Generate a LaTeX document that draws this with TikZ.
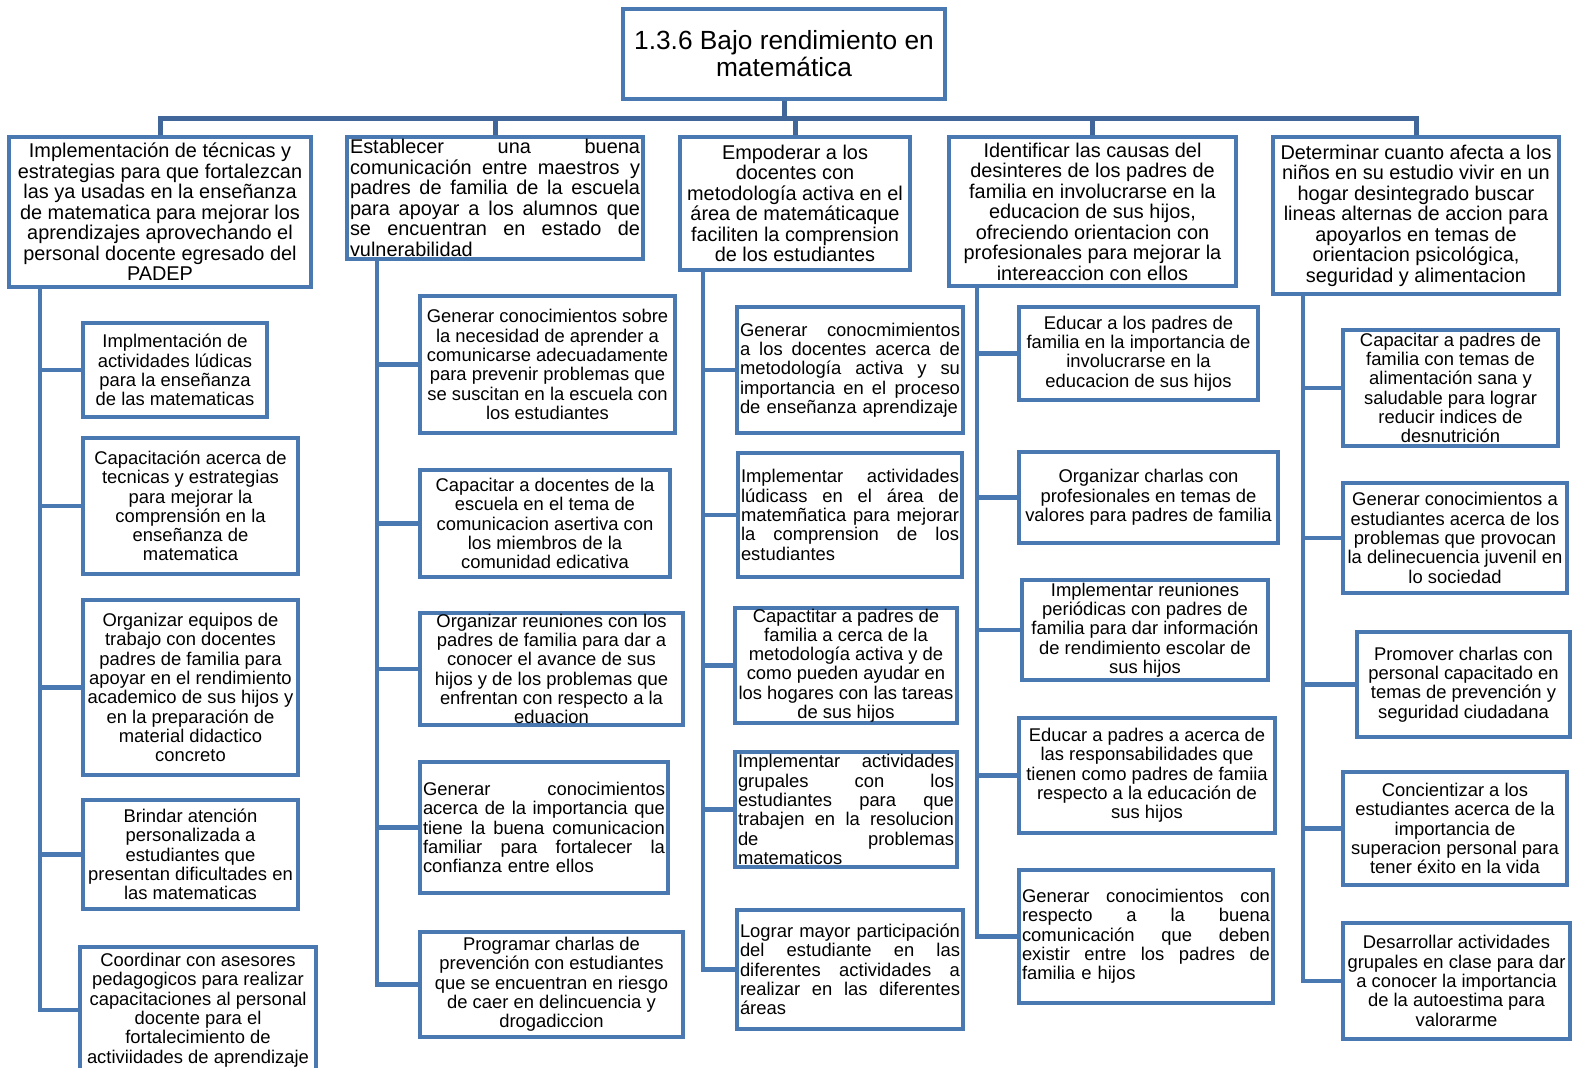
\documentclass[tikz,border=0pt]{standalone}
\usepackage{fontspec}
\setmainfont{Liberation Sans}
\definecolor{azul}{RGB}{74,120,176}
\definecolor{azulbarra}{RGB}{64,102,154}
\newcommand\jline[1]{\noindent\hbox to\hsize{\spaceskip=0pt\xspaceskip=0pt\relax #1}}

\begin{document}
\begin{tikzpicture}[x=1pt,y=-1pt,
  meta/.style={draw=azul,line width=4.8pt,fill=white,align=center,inner sep=2pt,font=\fontsize{26.3}{27}\selectfont},
  causa/.style={draw=azul,line width=4.6pt,fill=white,align=center,inner xsep=3pt,inner ysep=0pt,font=\fontsize{19.9}{20.5}\selectfont},
  accion/.style={draw=azul,line width=4.6pt,fill=white,align=center,inner xsep=3pt,inner ysep=0pt,font=\fontsize{18.4}{19.3}\selectfont},
  justo/.style={align=left},
  rama/.style={draw=azul,line width=4.8pt},
  barra/.style={draw=azulbarra,line width=5pt}]
\useasboundingbox (0,0) rectangle (1572,1068);
\clip (0,0) rectangle (1572,1068);

\node[meta,minimum width=322pt,minimum height=90pt] (titulo) at (784,54) {1.3.6 Bajo rendimiento en\\matemática};

% objetivos generales
\node[causa,minimum width=302pt,minimum height=150pt] (h1) at (160,212) {Implementación  de técnicas y\\estrategias para que fortalezcan\\las ya usadas en la enseñanza\\de matematica para  mejorar los\\aprendizajes aprovechando el\\personal docente egresado del\\PADEP};
\node[causa,justo,text width=290pt,minimum height=122pt] (h2) at (495,198) {\jline{Establecer una buena}\\\jline{comunicación entre maestros y}\\\jline{padres de familia de la escuela}\\\jline{para apoyar a los alumnos que}\\\jline{se encuentran en estado de}\\vulnerabilidad};
\node[causa,minimum width=230pt,minimum height=133pt] (h3) at (795,203.5) {Empoderar a los\\docentes con\\metodología activa en el\\área de matemáticaque\\faciliten la comprension\\de los estudiantes};
\node[causa,minimum width=287pt,minimum height=149pt] (h4) at (1092.5,211.5) {Identificar las causas del\\desinteres de los padres de\\familia en involucrarse en la\\educacion de sus hijos,\\ofreciendo orientacion con\\profesionales para mejorar la\\intereaccion con ellos};
\node[causa,minimum width=286pt,minimum height=157pt] (h5) at (1416,215.5) {Determinar cuanto afecta a los\\niños en su estudio vivir en un\\hogar desintegrado  buscar\\lineas alternas de accion para\\apoyarlos en temas de\\orientacion psicológica,\\seguridad y alimentacion};

% columna 1
\node[accion,minimum width=184pt,minimum height=94pt] (c1a) at (175,370) {Implmentación de\\actividades lúdicas\\para la enseñanza\\de las matematicas};
\node[accion,minimum width=215pt,minimum height=136pt] (c1b) at (190.5,506) {Capacitación acerca de\\tecnicas y estrategias\\para mejorar  la\\comprensión en la\\enseñanza de\\matematica};
\node[accion,minimum width=215pt,minimum height=175pt] (c1c) at (190.5,687.5) {Organizar equipos de\\trabajo con docentes\\padres de familia para\\apoyar en el rendimiento\\academico de sus hijos y\\en la preparación de\\material didactico\\concreto};
\node[accion,minimum width=215pt,minimum height=109pt] (c1d) at (190.5,854.5) {Brindar atención\\personalizada a\\estudiantes que\\presentan dificultades en\\las matematicas};
\node[accion,minimum width=236pt,minimum height=126pt] (c1e) at (198,1010) {Coordinar con asesores\\pedagogicos para realizar\\capacitaciones al personal\\docente para el\\fortalecimiento de\\activiidades de aprendizaje};

% columna 2
\node[accion,minimum width=255pt,minimum height=137pt] (c2a) at (547.5,364.5) {Generar conocimientos sobre\\la necesidad de aprender a\\comunicarse adecuadamente\\para prevenir problemas que\\se suscitan en la escuela con\\los estudiantes};
\node[accion,minimum width=250pt,minimum height=107pt] (c2b) at (545,523.5) {Capacitar a docentes de la\\escuela en el tema de\\comunicacion asertiva con\\los miembros de la\\comunidad edicativa};
\node[accion,minimum width=263pt,minimum height=112pt] (c2c) at (551.5,669) {Organizar reuniones con los\\padres de familia  para dar a\\conocer el avance de  sus\\hijos y de los problemas que\\enfrentan con respecto a la\\eduacion};
\node[accion,justo,text width=242pt,minimum height=131pt] (c2d) at (544,827.5) {\jline{Generar conocimientos}\\\jline{acerca de la importancia que}\\\jline{tiene la buena comunicacion}\\\jline{familiar para fortalecer la}\\confianza entre ellos};
\node[accion,minimum width=263pt,minimum height=105pt] (c2e) at (551.5,984.5) {Programar charlas de\\prevención con estudiantes\\que se encuentran en riesgo\\de caer en delincuencia y\\drogadiccion};

% columna 3
\node[accion,justo,text width=220pt,minimum height=126pt] (c3a) at (850,370) {\jline{Generar conocmimientos}\\\jline{a los docentes acerca de}\\\jline{metodología activa y su}\\\jline{importancia en el proceso}\\de enseñanza aprendizaje};
\node[accion,justo,text width=218pt,minimum height=124pt] (c3b) at (850,515) {\jline{Implementar actividades}\\\jline{lúdicass en el área de}\\\jline{matemñatica para mejorar}\\\jline{la comprension de los}\\estudiantes};
\node[accion,minimum width=222pt,minimum height=115pt] (c3c) at (846,665.5) {Capactitar a padres de\\familia a cerca de la\\metodología activa y de\\como pueden ayudar en\\los hogares con las tareas\\de sus hijos};
\node[accion,justo,text width=216pt,minimum height=115pt] (c3d) at (846,809.5) {\jline{Implementar actividades}\\\jline{grupales con los}\\\jline{estudiantes para que}\\\jline{trabajen en la resolucion}\\\jline{de problemas}\\matematicos};
\node[accion,justo,text width=220pt,minimum height=119pt] (c3e) at (850,969.5) {\jline{Lograr mayor participación}\\\jline{del estudiante en las}\\\jline{diferentes actividades a}\\\jline{realizar en las diferentes}\\áreas};

% columna 4
\node[accion,minimum width=239pt,minimum height=93pt] (c4a) at (1138.5,353.5) {Educar a los padres de\\familia en la importancia de\\involucrarse en la\\educacion de sus hijos};
\node[accion,minimum width=259pt,minimum height=91pt] (c4b) at (1148.5,497.5) {Organizar charlas con\\profesionales en temas de\\valores para padres de familia};
\node[accion,minimum width=246pt,minimum height=100pt] (c4c) at (1145,630) {Implementar reuniones\\periódicas con padres de\\familia para dar información\\de rendimiento escolar de\\sus hijos};
\node[accion,minimum width=256pt,minimum height=115pt] (c4d) at (1147,775.5) {Educar a padres a acerca de\\las responsabilidades que\\tienen como padres de famiia\\respecto a la educación de\\sus hijos};
\node[accion,justo,text width=248pt,minimum height=133pt] (c4e) at (1146,936.5) {\jline{Generar conocimientos con}\\\jline{respecto a la buena}\\\jline{comunicación que deben}\\\jline{existir entre los padres de}\\familia e hijos};

% columna 5
\node[accion,minimum width=215pt,minimum height=116pt] (c5a) at (1450.5,388) {Capacitar a padres de\\familia con temas de\\alimentación sana y\\saludable para lograr\\reducir indices de\\desnutrición};
\node[accion,minimum width=224pt,minimum height=110pt] (c5b) at (1455,538) {Generar conocimientos  a\\estudiantes acerca de los\\problemas que provocan\\la delinecuencia juvenil en\\lo sociedad};
\node[accion,minimum width=213pt,minimum height=105pt] (c5c) at (1463.5,684.5) {Promover  charlas con\\personal capacitado en\\temas de prevención y\\seguridad ciudadana};
\node[accion,minimum width=224pt,minimum height=113pt] (c5d) at (1455,828.5) {Concientizar a los\\estudiantes acerca de la\\importancia de\\superacion personal para\\tener éxito en la vida};
\node[accion,minimum width=227pt,minimum height=116pt] (c5e) at (1456.5,981) {Desarrollar actividades\\grupales en clase para dar\\a conocer la importancia\\de la autoestima para\\valorarme};

% conectores
\coordinate (barra) at (0,118);
\coordinate (t1) at (40,0);
\coordinate (t2) at (377,0);
\coordinate (t3) at (703,0);
\coordinate (t4) at (977,0);
\coordinate (t5) at (1303,0);

\draw[barra] (titulo.south) -- (titulo.south |- barra);
\draw[barra] (h1.north) -- (h1.north |- barra) -- (h5.north |- barra) -- (h5.north);
\draw[barra] (h2.north) -- (h2.north |- barra);
\draw[barra] (h3.north) -- (h3.north |- barra);
\draw[barra] (h4.north) -- (h4.north |- barra);

\draw[rama] (h1.south -| t1) |- (c1e.west);
\draw[rama] (c1a.west) -- (c1a.west -| t1);
\draw[rama] (c1b.west) -- (c1b.west -| t1);
\draw[rama] (c1c.west) -- (c1c.west -| t1);
\draw[rama] (c1d.west) -- (c1d.west -| t1);

\draw[rama] (h2.south -| t2) |- (c2e.west);
\draw[rama] (c2a.west) -- (c2a.west -| t2);
\draw[rama] (c2b.west) -- (c2b.west -| t2);
\draw[rama] (c2c.west) -- (c2c.west -| t2);
\draw[rama] (c2d.west) -- (c2d.west -| t2);

\draw[rama] (h3.south -| t3) |- (c3e.west);
\draw[rama] (c3a.west) -- (c3a.west -| t3);
\draw[rama] (c3b.west) -- (c3b.west -| t3);
\draw[rama] (c3c.west) -- (c3c.west -| t3);
\draw[rama] (c3d.west) -- (c3d.west -| t3);

\draw[rama] (h4.south -| t4) |- (c4e.west);
\draw[rama] (c4a.west) -- (c4a.west -| t4);
\draw[rama] (c4b.west) -- (c4b.west -| t4);
\draw[rama] (c4c.west) -- (c4c.west -| t4);
\draw[rama] (c4d.west) -- (c4d.west -| t4);

\draw[rama] (h5.south -| t5) |- (c5e.west);
\draw[rama] (c5a.west) -- (c5a.west -| t5);
\draw[rama] (c5b.west) -- (c5b.west -| t5);
\draw[rama] (c5c.west) -- (c5c.west -| t5);
\draw[rama] (c5d.west) -- (c5d.west -| t5);
\end{tikzpicture}
\end{document}
